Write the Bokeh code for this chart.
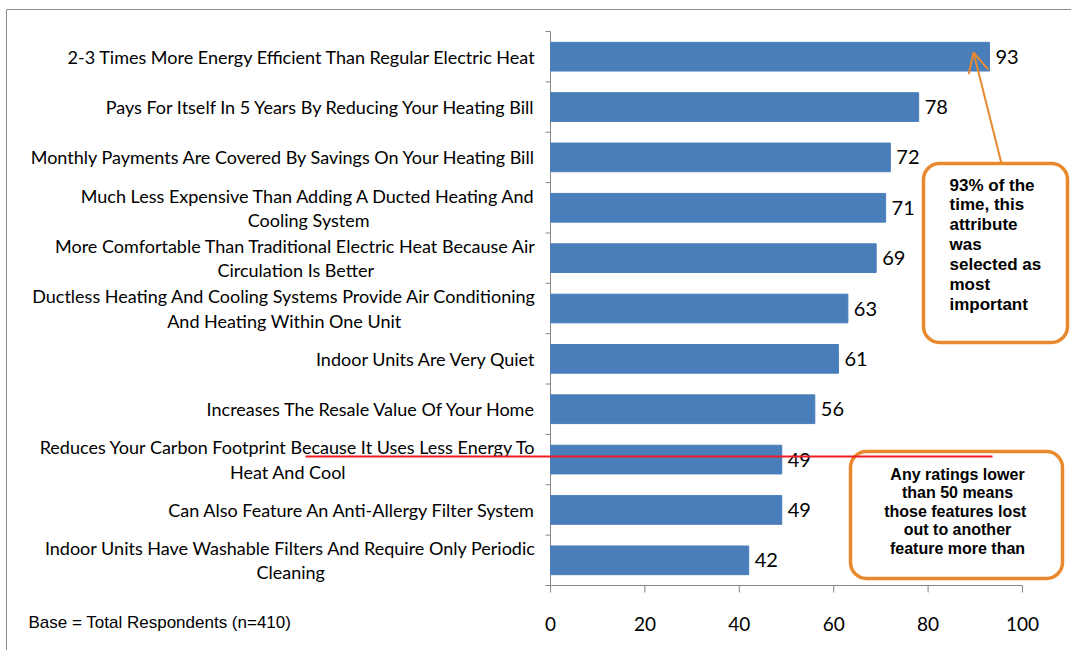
from bokeh.plotting import figure
from bokeh.models import (Range1d, LabelSet, Label, BoxAnnotation,
                          Arrow, OpenHead, ColumnDataSource)
from bokeh.core.properties import value
from bokeh.embed import file_html
from bokeh.resources import INLINE

# ---------------- data ----------------
categories = [
    "2-3 Times More Energy Efficient Than Regular Electric Heat",
    "Pays For Itself In 5 Years By Reducing Your Heating Bill",
    "Monthly Payments Are Covered By Savings On Your Heating Bill",
    "Much Less Expensive Than Adding A Ducted Heating And\nCooling System",
    "More Comfortable Than Traditional Electric Heat Because Air\nCirculation Is Better",
    "Ductless Heating And Cooling Systems Provide Air Conditioning\nAnd Heating Within One Unit",
    "Indoor Units Are Very Quiet",
    "Increases The Resale Value Of Your Home",
    "Reduces Your Carbon Footprint Because It Uses Less Energy To\nHeat And Cool",
    "Can Also Feature An Anti-Allergy Filter System",
    "Indoor Units Have Washable Filters And Require Only Periodic\nCleaning",
]
values = [93, 78, 72, 71, 69, 63, 61, 56, 49, 49, 42]
x_ticks = [0, 20, 40, 60, 80, 100]
x_tick_labels = ["0", "20", "40", "60", "80", "100"]
base_note = "Base = Total Respondents (n=410)"
callout_top = "93% of the\ntime, this\nattribute\nwas\nselected as\nmost\nimportant"
callout_bottom = "Any ratings lower\nthan 50 means\nthose  features lost\nout to another\nfeature more than"

# ---------------- layout constants ----------------
W, H = 1071, 650
FL, FR, FT, FB = 550, 1022, 31, 585   # plot area edges (pixels) for value 0..100, row 0..n
n = len(categories)
pos = [i + 0.5 for i in range(n)]
XMIN, XMAX = 0, 100


def px_x(px):
    return XMIN + (px - FL) * (XMAX - XMIN) / (FR - FL)


def px_y(py):
    return (py - FT) * n / (FB - FT)


BLUE = "#4A7EBB"
ORANGE = "#E8892E"
GRAY = "#868686"

p = figure(width=W, height=H,
           x_range=Range1d(px_x(0), px_x(W)), y_range=Range1d(px_y(H), px_y(0)),
           output_backend="svg", toolbar_location=None,
           x_axis_type=None, y_axis_type=None, min_border=0)
p.outline_line_color = None
p.grid.visible = False
p.background_fill_color = "white"
p.border_fill_color = "white"

# outer border of chart area
p.add_layout(BoxAnnotation(left=px_x(6), right=px_x(W + 40), top=px_y(9), bottom=px_y(H + 40),
                           fill_alpha=0, line_color="#8c8c8c", line_alpha=1, line_width=1,
                           level="underlay"))

# ---- value axis (bottom) ----
p.segment(x0=[XMIN], x1=[XMAX], y0=[n], y1=[n], line_color=GRAY, line_width=1)
p.segment(x0=x_ticks, x1=x_ticks, y0=[n] * len(x_ticks), y1=[px_y(FB + 7)] * len(x_ticks),
          line_color=GRAY, line_width=1)
p.text(x=x_ticks, y=[px_y(623)] * len(x_ticks), text=x_tick_labels,
       text_align="center", text_baseline="middle", text_font=value("Lato"),
       text_font_size="19px", text_color="black")

# ---- category axis (left) ----
bounds = list(range(n + 1))
p.segment(x0=[0], x1=[0], y0=[0], y1=[n], line_color=GRAY, line_width=1)
p.segment(x0=[0] * len(bounds), x1=[px_x(FL - 5)] * len(bounds), y0=bounds, y1=bounds,
          line_color=GRAY, line_width=1)
p.text(x=[0] * n, y=pos, text=categories, x_offset=-14,
       anchor=value("center_right"), text_align="center", text_baseline="middle",
       text_font=value("Lato"), text_font_size="18px", text_line_height=1.1,
       text_color="black")

# bars
src = ColumnDataSource(dict(y=pos, v=values, t=[str(v) for v in values]))
p.hbar(y="y", right="v", left=0, height=0.57, source=src, color=BLUE)

# value labels
p.add_layout(LabelSet(x="v", y="y", text="t", source=src, x_offset=6,
                      text_baseline="middle", text_font=value("Lato"),
                      text_font_size="20px", text_color="black"))

# base note
p.add_layout(Label(x=px_x(28), y=px_y(622), text=base_note, text_baseline="middle",
                   text_font="Liberation Sans", text_font_size="17px", text_color="black"))

# callout 1 with arrow
p.add_layout(BoxAnnotation(left=px_x(923), right=px_x(1067), top=px_y(163), bottom=px_y(342),
                           fill_color="white", fill_alpha=1, line_color=ORANGE, line_alpha=1,
                           line_width=3.5, border_radius=16))
p.add_layout(Label(x=px_x(949), y=px_y(175), text=callout_top, text_baseline="top",
                   text_font="Liberation Sans", text_font_style="bold", text_font_size="17px",
                   text_line_height=1.05, text_color="black"))
p.add_layout(Arrow(end=OpenHead(size=20, line_color=ORANGE, line_width=2),
                   x_start=px_x(1001), y_start=px_y(163), x_end=px_x(973), y_end=px_y(52),
                   line_color=ORANGE, line_width=2))

# callout 2
p.add_layout(BoxAnnotation(left=px_x(850), right=px_x(1062), top=px_y(451), bottom=px_y(578),
                           fill_color="white", fill_alpha=1, line_color=ORANGE, line_alpha=1,
                           line_width=3.5, border_radius=16))
p.add_layout(Label(x=px_x(957), y=px_y(465), text=callout_bottom, text_baseline="top",
                   text_align="center",
                   text_font="Liberation Sans", text_font_style="bold", text_font_size="16px",
                   text_line_height=1.09, text_color="black"))

# red threshold line (drawn over the callout)
p.add_layout(Arrow(start=None, end=None, x_start=px_x(305), y_start=px_y(456),
                   x_end=px_x(992), y_end=px_y(456), line_color="#EE1C25", line_width=2))

open("out.html", "w").write(file_html(p, INLINE))
